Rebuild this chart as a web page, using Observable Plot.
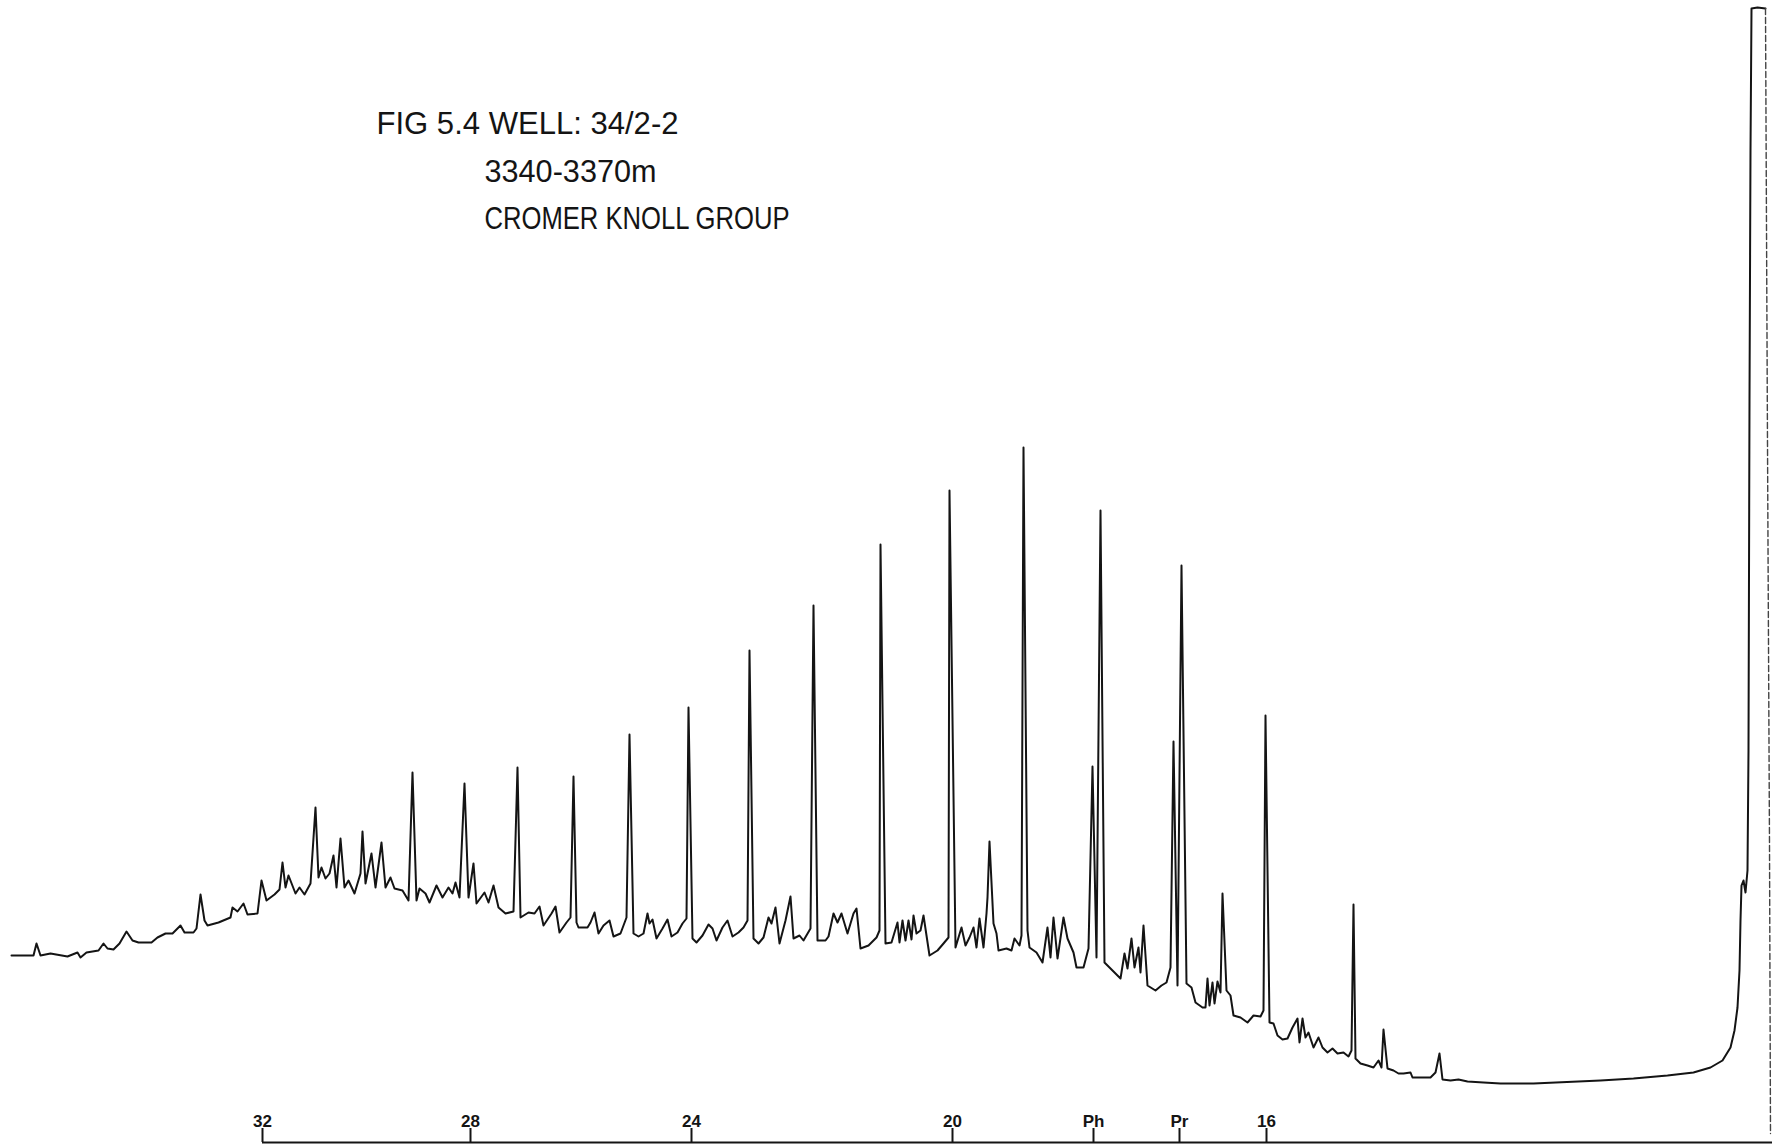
<!DOCTYPE html>
<html>
<head>
<meta charset="utf-8">
<script src="https://cdn.jsdelivr.net/npm/d3@7"></script>
<script src="https://cdn.jsdelivr.net/npm/@observablehq/plot@0.6"></script>
<style>
  html, body { margin: 0; padding: 0; background: #fff; }
  #chart svg { display: block; }
</style>
</head>
<body>
<div id="chart"></div>
<script>
// ---- Title text ----
const titleLines = ["FIG 5.4 WELL: 34/2-2", "3340-3370m", "CROMER KNOLL GROUP"];

// ---- Axis markers (retention position, label) ----
const tickPositions = [262, 470, 691, 952, 1093, 1179, 1266];
const tickLabels = ["32", "28", "24", "20", "Ph", "Pr", "16"];

// ---- Chromatogram trace: [retention position, detector response] ----
const traceHeavy = [
  [11,188],[33,188],[36,200],[40,188],[50,190],[67,187],[77,191],[80,186],[86,191],[98,193],
  [103,200],[107,195],[113,194],[119,200],[126,212],[132,203],[138,201],[151,201],[157,206],[165,210],
  [172,210],[180,218],[184,211],[193,211],[196,215],[200,249],[204,223],[207,218],[218,221],[230,226],
  [232,236],[237,232],[243,240],[247,229],[257,230],[261,263],[266,243],[274,249],[279,254],[282,281],
  [285,256],[288,268],[295,250],[299,256],[304,249],[310,260],[315,336],[318,266],[321,276],[325,265],
  [329,270],[333,288],[336,256],[340,305],[344,256],[348,263],[354,250],[360,270],[362,312],[365,260],
  [371,290],[375,256],[381,301],[385,256],[390,266],[394,255],[402,253],[408,243],[412,371],[416,243],
  [419,255],[425,250],[429,241],[436,258],[442,246],[448,256],[452,250],[455,261],[459,246],[464,360],
  [468,246],[473,280],[476,240],[484,251],[488,241],[493,258],[498,236],[505,230],[513,232],[517,376],
  [520,226],[528,231],[534,230],[539,237],[543,218],[551,230],[555,237],[559,211],[566,221],[570,226],
  [573,367],[576,221]
];
const traceMid = [
  [578,216],[587,216],[590,221],[594,231],[598,210],[603,218],[609,223],[613,207],[620,210],[626,226],
  [629,409],[633,210],[638,207],[643,210],[647,230],[649,220],[652,224],[656,205],[662,215],[667,224],
  [671,207],[677,211],[682,220],[686,225],[688,436],[692,205],[696,201],[702,208],[708,219],[712,215],
  [716,203],[722,216],[727,223],[732,207],[738,211],[743,216],[747,223],[749,493],[753,205],[758,200],
  [763,206],[768,226],[771,220],[775,236],[779,200],[785,223],[790,247],[793,205],[799,208],[803,203],
  [810,215],[813,538],[817,203],[825,203],[828,207],[833,230],[837,221],[841,230],[847,210],[853,230],
  [856,235],[860,195],[868,198],[876,206],[879,213],[880,599],[885,200],[891,201],[897,221],[899,201],
  [902,223],[905,203],[908,223],[911,204],[913,228],[916,210],[920,213],[923,228],[929,188],[937,193],
  [943,200],[948,206],[949,653],[955,196],[961,216],[965,198],[969,206],[973,216],[976,196],[979,225],
  [983,196],[986,230],[987,246],[989,302],[993,220],[996,210],[998,193],[1006,195],[1011,193],[1014,205],
  [1019,198],[1021,208],[1023,696],[1027,213],[1029,196],[1036,191],[1042,181],[1047,216],[1050,186],[1053,226],
  [1057,185],[1063,226],[1067,205],[1073,191],[1076,176],[1083,176],[1088,195],[1092,377],[1096,186],[1100,633],
  [1104,181],[1109,176],[1115,170],[1120,165],[1124,190],[1127,175],[1131,205],[1134,176],[1138,196],[1140,171],
  [1143,218],[1147,158],[1155,153],[1161,158],[1166,161],[1170,176],[1173,402],[1177,158],[1181,578],[1186,160]
];
const traceLight = [
  [1191,156],[1195,141],[1202,136],[1205,136],[1207,165],[1209,138],[1212,161],[1214,140],[1217,162],[1220,151],
  [1222,250],[1226,153],[1230,148],[1233,128],[1240,126],[1247,121],[1253,128],[1260,127],[1263,133],[1265,428],
  [1269,121],[1273,120],[1277,108],[1282,104],[1287,105],[1292,116],[1297,125],[1299,101],[1302,125],[1305,106],
  [1308,111],[1313,96],[1318,106],[1322,96],[1327,91],[1332,95],[1337,90],[1343,91],[1348,87],[1351,93],
  [1353,239],[1355,85],[1360,80],[1367,78],[1373,76],[1378,83],[1381,76],[1383,114],[1387,75],[1393,73],
  [1398,70],[1403,70],[1410,71],[1412,66],[1420,66],[1430,66],[1435,71],[1439,90],[1442,64],[1450,63],
  [1458,64],[1467,62],[1483,61],[1500,60],[1533,60],[1600,63],[1633,65],[1667,68],[1693,71],[1710,76],
  [1722,83],[1730,96],[1734,113],[1737,136],[1739,173],[1740,223],[1741,258],[1743,263],[1745,251],[1747,273],
  [1748,393],[1749,743],[1750,993],[1751,1135],[1757,1136],[1765,1135]
];
// solvent peak pen return (off-scale)
const solventReturn = [[1765,1135],[1767,700],[1769,300],[1770,10]];

const trace = [...traceHeavy, ...traceMid, ...traceLight];
const ticks = tickPositions.map((p, i) => ({pos: p, label: tickLabels[i]}));

const ink = "#141414";
const font = "Liberation Sans, Arial, sans-serif";
const chart = Plot.plot({
  width: 1772,
  height: 1145,
  margin: 0,
  style: {background: "#fff", overflow: "visible"},
  x: {domain: [0, 1772], axis: null},
  y: {domain: [-2, 1143], axis: null},
  marks: [
    Plot.ruleY([1], {x1: tickPositions[0], x2: 1772, stroke: ink, strokeWidth: 2}),
    Plot.ruleX(ticks, {x: "pos", y1: 1, y2: 15, stroke: ink, strokeWidth: 2}),
    Plot.text(ticks, {x: "pos", y: 22, text: "label", fontSize: 17, fontWeight: "bold",
      fontFamily: font, fill: ink}),
    Plot.line(trace, {x: d => d[0], y: d => d[1], stroke: ink, strokeWidth: 2,
      strokeLinejoin: "round"}),
    Plot.line(solventReturn, {x: d => d[0], y: d => d[1], stroke: "#444", strokeWidth: 1.4,
      strokeDasharray: "6,3"}),
    Plot.text([titleLines[0]], {x: 376, y: 1020, text: d => d, textAnchor: "start", fontSize: 32,
      fontFamily: font, fill: ink}),
    Plot.text([titleLines[1]], {x: 484, y: 972, text: d => d, textAnchor: "start", fontSize: 32,
      fontFamily: font, fill: ink}),
    Plot.text([titleLines[2]], {x: 484, y: 925, text: d => d, textAnchor: "start", fontSize: 32,
      fontFamily: font, fill: ink})
  ]
});

// fit the lettering widths of the stencil-style title
const titleFit = {"FIG 5.4 WELL: 34/2-2": 302, "3340-3370m": 172, "CROMER KNOLL GROUP": 305};
d3.select(chart).selectAll("text").each(function () {
  const w = titleFit[this.textContent];
  if (w) d3.select(this).attr("textLength", w).attr("lengthAdjust", "spacingAndGlyphs");
});

document.getElementById("chart").appendChild(chart);
</script>
</body>
</html>
